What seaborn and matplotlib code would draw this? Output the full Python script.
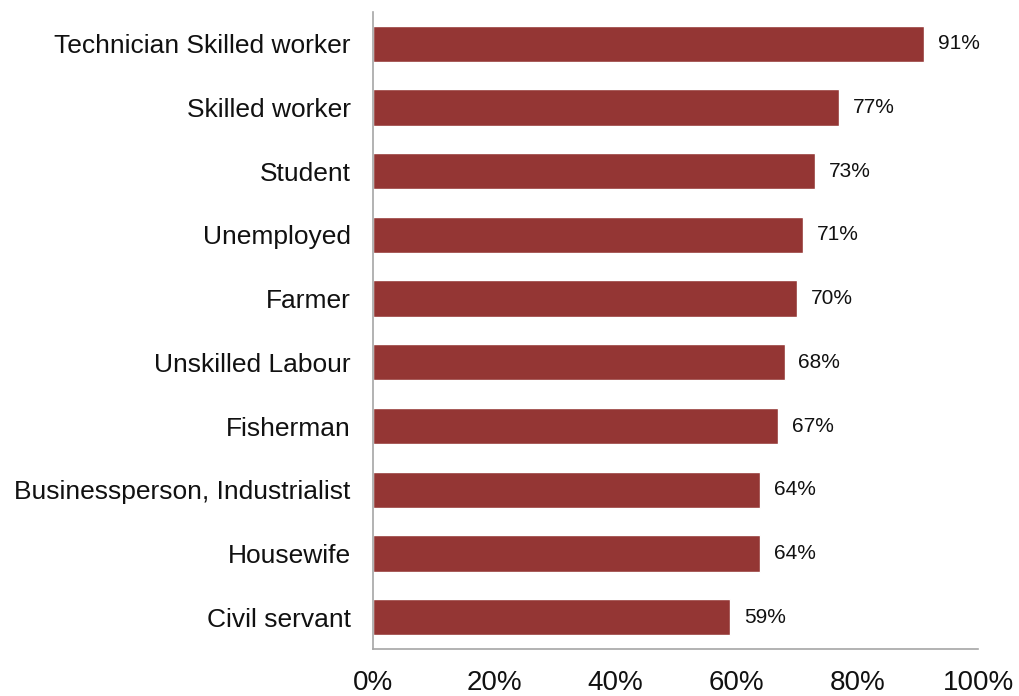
import matplotlib
matplotlib.use("Agg")
import matplotlib.pyplot as plt
import seaborn as sns
import pandas as pd
from matplotlib.ticker import FuncFormatter

occupations = [
    "Technician Skilled worker",
    "Skilled worker",
    "Student",
    "Unemployed",
    "Farmer",
    "Unskilled Labour",
    "Fisherman",
    "Businessperson, Industrialist",
    "Housewife",
    "Civil servant",
]
shares = [91, 77, 73, 71, 70, 68, 67, 64, 64, 59]
x_ticks = [0, 20, 40, 60, 80, 100]

sns.set_theme(style="white")
plt.rcParams["font.family"] = ["Liberation Sans", "DejaVu Sans"]

df = pd.DataFrame({"occupation": occupations, "share": shares})

fig = plt.figure(figsize=(10.19, 6.96), dpi=100)
ax = fig.add_axes([0.366, 0.0675, 0.594, 0.9155])

sns.barplot(data=df, y="occupation", x="share", color="#943634",
            saturation=1, width=0.57, ax=ax, orient="h")

for patch, val in zip(ax.patches, shares):
    ax.annotate(f"{val}%", (patch.get_width(), patch.get_y() + patch.get_height() / 2),
                xytext=(10, 0), textcoords="offset points",
                ha="left", va="center", fontsize=15, color="#111111")

ax.set_xlim(0, 100)
ax.set_ylim(9.5, -0.5)
ax.set_xticks(x_ticks)
ax.xaxis.set_major_formatter(FuncFormatter(lambda v, _: f"{v:.0f}%"))
ax.set_xlabel("")
ax.set_ylabel("")
ax.tick_params(axis="x", length=0, pad=15, labelsize=20, labelcolor="#111111")
ax.tick_params(axis="y", length=0, pad=16, labelsize=19, labelcolor="#111111")

for side in ["top", "right"]:
    ax.spines[side].set_visible(False)
for side in ["left", "bottom"]:
    ax.spines[side].set_color("#a6a6a6")
    ax.spines[side].set_linewidth(1.2)

fig.savefig("out.png", dpi=100)
